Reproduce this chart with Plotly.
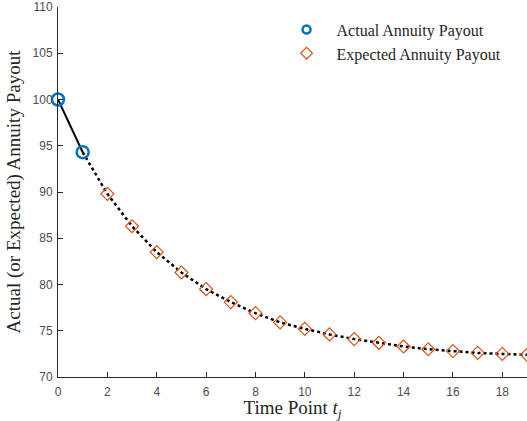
import plotly.graph_objects as go

t_actual = [0, 1]
y_actual = [100, 94.3]
t_expected = list(range(2, 20))
y_expected = [89.8, 86.3, 83.5, 81.3, 79.5, 78.1, 76.9, 75.9, 75.2, 74.6,
              74.1, 73.7, 73.3, 73.0, 72.8, 72.6, 72.5, 72.4]

x_ticks = list(range(0, 20, 2))
y_ticks = list(range(70, 111, 5))

SERIF = "Liberation Serif, DejaVu Serif, serif"
BLUE = "#0072BD"
ORANGE = "#D95319"

fig = go.Figure()
fig.add_trace(go.Scatter(x=t_actual, y=y_actual, mode="lines",
                         line=dict(color="black", width=2), showlegend=False,
                         hoverinfo="skip", cliponaxis=False))
fig.add_trace(go.Scatter(x=[t_actual[-1]] + t_expected,
                         y=[y_actual[-1]] + y_expected, mode="lines",
                         line=dict(color="black", width=2.5, dash="dot"),
                         showlegend=False, hoverinfo="skip"))
fig.add_trace(go.Scatter(x=t_actual, y=y_actual, mode="markers", showlegend=False,
                         name="Actual Annuity Payout", cliponaxis=False,
                         marker=dict(symbol="circle-open", size=12, color=BLUE,
                                     line=dict(width=2.5, color=BLUE))))
fig.add_trace(go.Scatter(x=t_expected, y=y_expected, mode="markers", showlegend=False,
                         name="Expected Annuity Payout", cliponaxis=False,
                         marker=dict(symbol="diamond-open", size=10, color=ORANGE,
                                     line=dict(width=1.2, color=ORANGE))))
# legend entries (smaller symbols, as in the reference legend)
fig.add_trace(go.Scatter(x=[None], y=[None], mode="markers",
                         name="Actual Annuity Payout",
                         marker=dict(symbol="circle-open", size=8, color=BLUE,
                                     line=dict(width=2.5, color=BLUE))))
fig.add_trace(go.Scatter(x=[None], y=[None], mode="markers",
                         name="Expected Annuity Payout",
                         marker=dict(symbol="diamond-open", size=9, color=ORANGE,
                                     line=dict(width=1.2, color=ORANGE))))

axis_common = dict(showline=True, linecolor="#262626", linewidth=1, showgrid=False,
                   zeroline=False, ticks="inside", ticklen=5, tickcolor="#262626",
                   automargin=False, ticklabeloverflow="allow",
                   tickfont=dict(family="Liberation Sans, Arial", size=12, color="#4d4d4d"))

fig.update_layout(
    width=527, height=421,
    margin=dict(l=58, r=0, t=7, b=44),
    plot_bgcolor="white", paper_bgcolor="white",
    xaxis=dict(range=[0, 19], tickvals=x_ticks, ticklabelstandoff=4,
               title=dict(text="Time Point <i>t</i><sub><i>j</i></sub>", standoff=0,
                          font=dict(family=SERIF, size=19, color="#262626")),
               **axis_common),
    yaxis=dict(range=[70, 110], tickvals=y_ticks, ticklabelstandoff=2,
               title=dict(text="Actual (or Expected) Annuity Payout", standoff=6,
                          font=dict(family=SERIF, size=19, color="#262626")),
               **axis_common),
    legend=dict(x=0.466, y=0.985, xanchor="left", yanchor="top",
                bgcolor="rgba(255,255,255,0)", tracegroupgap=0, itemwidth=50,
                font=dict(family=SERIF, size=16, color="#262626")),
)

fig.write_html("out.html", config={"displayModeBar": False},
               post_script="document.body.style.margin='0';document.body.style.padding='0';")
